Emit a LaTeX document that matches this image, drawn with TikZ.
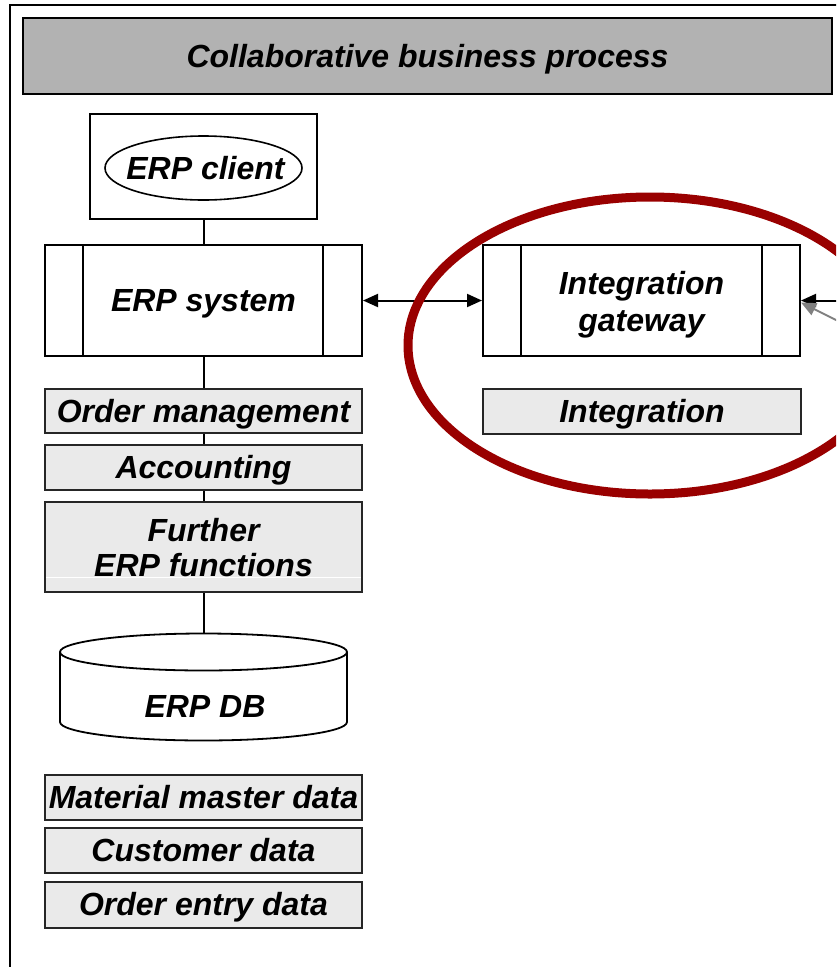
\documentclass[tikz,border=0pt]{standalone}
\usepackage{fontspec}
\setmainfont{Liberation Sans}
\usetikzlibrary{arrows.meta,shapes.geometric}

\definecolor{titlegray}{HTML}{B2B2B2}
\definecolor{panelgray}{HTML}{EAEAEA}
\definecolor{ringred}{HTML}{990000}

\begin{document}
\begin{tikzpicture}[x=1pt,y=-1pt,
  txt/.style={font=\fontsize{32}{37.5}\selectfont\bfseries\itshape, align=center, inner sep=0pt},
  lbl/.style={txt, text height=29pt, text depth=6.8pt},
  whitebox/.style={lbl, draw=black, line width=2pt, fill=white},
  graybox/.style={lbl, draw=black!85, line width=2pt, fill=panelgray},
  funcbox/.style={graybox, minimum width=317pt, minimum height=45pt},
  link/.style={line width=2pt, draw=black},
  tip/.style={-{Triangle[length=15pt,width=13pt]}},
]
\useasboundingbox (0,0) rectangle (836,967);
\clip (0,0) rectangle (836,967);

% outer frame (continues beyond the page)
\draw[line width=2pt] (10,1000) -- (10,5) -- (900,5);

% title bar
\node[lbl, draw=black, line width=2pt, fill=titlegray,
      minimum width=809pt, minimum height=76pt] (title) at (427.5,56)
  {Collaborative business process};

% ERP client
\node[draw=black, line width=2pt, fill=white, minimum width=227pt, minimum height=105pt,
      inner sep=0pt] (clientbox) at (203.5,166.5) {};
\node[draw=black, line width=1.6pt, ellipse, minimum width=197pt, minimum height=64pt,
      inner sep=0pt, fill=white] (client) at (203.5,168) {};
\node[lbl] (clienttext) at ([xshift=2pt]client.center) {ERP client};

% ERP system
\node[whitebox, minimum width=317pt, minimum height=111pt] (sys) at (203.5,300.5) {ERP system};
\draw[link] ([xshift=39pt]sys.north west) -- ([xshift=39pt]sys.south west);
\draw[link] ([xshift=-40pt]sys.north east) -- ([xshift=-40pt]sys.south east);

% integration gateway
\node[draw=black, line width=2pt, fill=white, minimum width=317pt, minimum height=111pt,
      inner sep=0pt] (gw) at (641.5,300.5) {};
\node[txt] (gwtext) at ([yshift=-4pt]gw.center) {Integration\\gateway};
\draw[link] ([xshift=39pt]gw.north west) -- ([xshift=39pt]gw.south west);
\draw[link] ([xshift=-39pt]gw.north east) -- ([xshift=-39pt]gw.south east);

\node[graybox, minimum width=318pt, minimum height=45pt] (integ) at (642,411.5) {Integration};

% ERP functions
\node[funcbox, minimum height=44pt] (om) at (203.5,411) {Order management};
\node[funcbox] (acc) at (203.5,467.5) {Accounting};
\node[draw=black!85, line width=2pt, fill=panelgray, minimum width=317pt, minimum height=90pt,
      inner sep=0pt] (fur) at (203.5,547) {};
\node[txt] (furtext) at ([yshift=-0.5pt]fur.center) {Further\\[-3pt]ERP functions};
\draw[white, line width=1pt] ([xshift=2pt,yshift=-30pt]fur.center -| fur.west)
  -- ([xshift=-2pt,yshift=-30pt]fur.center -| fur.east);

% ERP database (cylinder)
\coordinate (dbtop) at (203.5,633.5);
\draw[line width=1.8pt, fill=white]
  (60,652) -- (60,722) arc[start angle=180, end angle=0, x radius=143.5, y radius=18.5]
  -- (347,652) arc[start angle=0, end angle=-180, x radius=143.5, y radius=18.5] -- cycle;
\draw[line width=1.8pt] (60,652) arc[start angle=180, end angle=0, x radius=143.5, y radius=18.5];
\node[lbl] (db) at (205,706) {ERP DB};

% master data
\node[funcbox] (mm) at (203.5,797.5) {Material master data};
\node[funcbox] (cd) at (203.5,850.5) {Customer data};
\node[funcbox, minimum height=46pt] (oe) at (203.5,904.5) {Order entry data};

% vertical links
\draw[link] (clientbox.south) -- (sys.north);
\draw[link] (sys.south) -- (om.north);
\draw[link] (om.south) -- (acc.north);
\draw[link] (acc.south) -- (fur.north);
\draw[link] (fur.south) -- (dbtop);

% system <-> gateway
\draw[link, {Triangle[length=15pt,width=13pt]}-{Triangle[length=15pt,width=13pt]}]
  (sys.east) -- (gw.west);

% incoming connections from the right
\coordinate (inblack) at (840,300.5);
\coordinate (ingray) at (840,322);
\draw[link, tip] (inblack) -- (gw.east);
\draw[line width=2pt, draw=gray, -{Triangle[length=15pt,width=13pt]}, fill=gray]
  (ingray) -- ([yshift=-2pt]gw.east);

% highlight ring
\draw[ringred, line width=9pt] (650,345.5) ellipse[x radius=242, y radius=148.5];
\end{tikzpicture}
\end{document}
